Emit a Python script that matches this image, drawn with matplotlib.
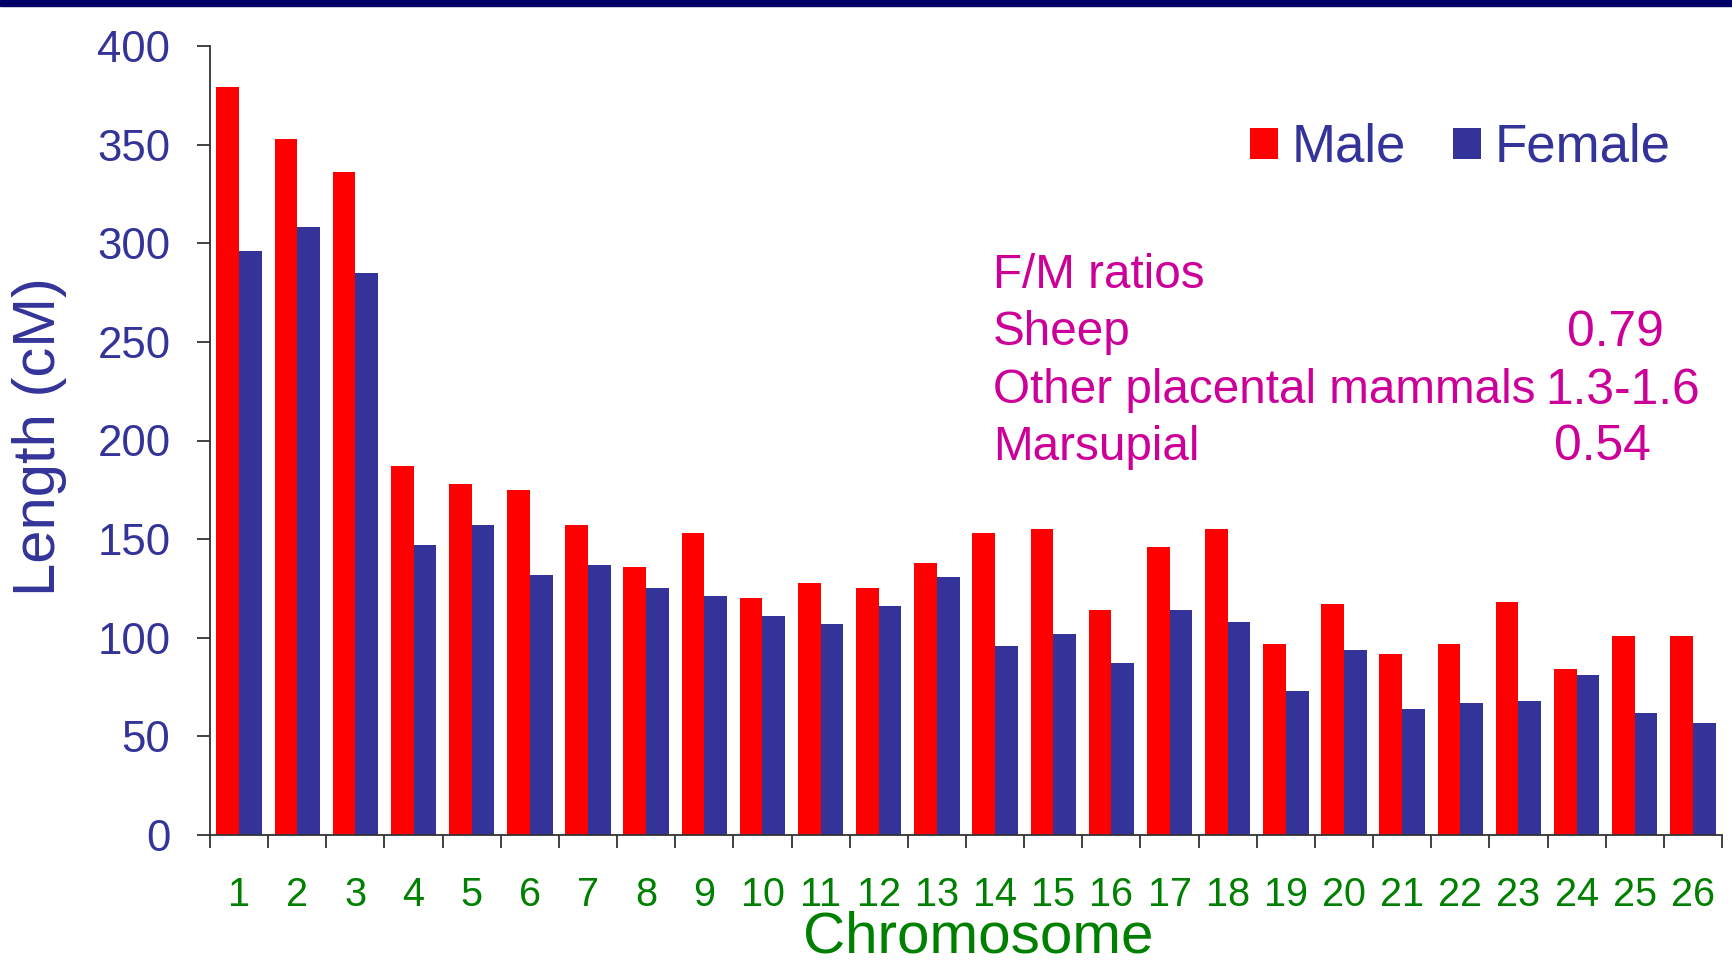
import numpy as np
import matplotlib.pyplot as plt
from matplotlib.patches import Rectangle

# sheep linkage map lengths (cM) per chromosome
chromosomes = [str(i) for i in range(1, 27)]
male = [379, 353, 336, 187, 178, 175, 157, 136, 153, 120, 128, 125, 138,
        153, 155, 114, 146, 155, 97, 117, 92, 97, 118, 84, 101, 101]
female = [296, 308, 285, 147, 157, 132, 137, 125, 121, 111, 107, 116, 131,
          96, 102, 87, 114, 108, 73, 94, 64, 67, 68, 81, 62, 57]

ratio_names = ['Sheep', 'Other placental mammals', 'Marsupial']
ratio_values = ['0.79', '1.3-1.6', '0.54']

RED = '#FF0000'
BLUE = '#333399'
GREEN = '#008000'
MAGENTA = '#CC0099'

plt.rcParams['font.family'] = ['Liberation Sans', 'DejaVu Sans']

fig = plt.figure(figsize=(17.33, 9.66), dpi=100)
ax = fig.add_axes([210 / 1733, 131 / 966, 1512 / 1733, 789 / 966])

# dark band across the top of the slide
fig.patches.append(Rectangle((0, 1 - 6 / 966), 1, 6 / 966, transform=fig.transFigure,
                             color='#000066', zorder=5))

x = np.arange(1, len(chromosomes) + 1)
w = 0.39
b1 = ax.bar(x - w / 2, male, w, color=RED, label='Male')
b2 = ax.bar(x + w / 2, female, w, color=BLUE, label='Female')

ax.set_xlim(0.5, 26.5)
ax.set_ylim(0, 400)
ax.set_yticks(range(0, 401, 50))
ax.set_xticks(x)
ax.set_xticklabels(chromosomes)
ax.set_xticks(np.arange(0.5, 27, 1), minor=True)

for s in ['top', 'right']:
    ax.spines[s].set_visible(False)
for s in ['left', 'bottom']:
    ax.spines[s].set_color('#333333')
    ax.spines[s].set_linewidth(1.3)

ax.tick_params(axis='y', direction='out', length=9.5, width=1.3, color='#333333',
               labelsize=31.5, labelcolor=BLUE, pad=19)
ax.tick_params(axis='x', which='major', length=0, labelsize=28.5, labelcolor=GREEN, pad=29.5)
ax.tick_params(axis='x', which='minor', direction='out', length=9, width=1.3, color='#333333')

ax.set_ylabel('Length (cM)', fontsize=43, color=BLUE, va='center')
ax.yaxis.set_label_coords(-0.113, 0.505)
ax.set_xlabel('Chromosome', fontsize=42, color=GREEN, va='center')
ax.xaxis.set_label_coords(0.508, -0.1297)

leg = ax.legend(handles=[b1, b2], ncol=2, frameon=False, fontsize=38,
                handlelength=0.53, handleheight=0.53, handletextpad=0.25,
                columnspacing=0.9, borderpad=0, borderaxespad=0,
                loc='center left', bbox_to_anchor=(1250 / 1733, 1 - 148 / 966),
                bbox_transform=fig.transFigure)
for t in leg.get_texts():
    t.set_color(BLUE)

# F/M ratio note
fs = 34.3
fig.text(993 / 1733, 1 - 275.5 / 966, 'F/M ratios', fontsize=fs, color=MAGENTA, va='center')
ys = [332.5, 390.5, 447.5]
xs_val = [1567, 1545, 1554]
for name, val, yy, xv in zip(ratio_names, ratio_values, ys, xs_val):
    fig.text(993 / 1733, 1 - yy / 966, name, fontsize=fs, color=MAGENTA, va='center')
    fig.text(xv / 1733, 1 - yy / 966, val, fontsize=fs + 1.5, color=MAGENTA, va='center')

fig.savefig('out.png', dpi=100)
